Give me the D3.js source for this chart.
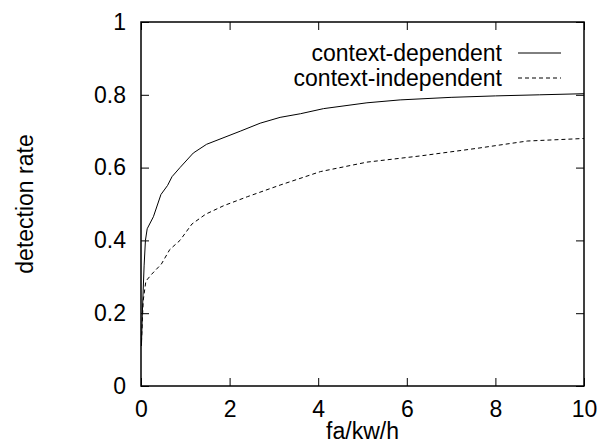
<!DOCTYPE html>
<html>
<head>
<meta charset="utf-8">
<script src="https://cdn.jsdelivr.net/npm/d3@7"></script>
<style>
  body { margin: 0; background: #fff; }
  svg text { font-family: "Liberation Sans", Arial, Helvetica, sans-serif; fill: #000; }
</style>
</head>
<body>
<div id="chartCtn"></div>
<script>
// curve data: [fa/kw/h, detection rate]
var contextDependent = [
	[ 0.01, 0.11 ], [ 0.03, 0.2 ], [ 0.07, 0.33 ], [ 0.1, 0.4 ], [ 0.14, 0.432 ],
	[ 0.28, 0.465 ], [ 0.45, 0.526 ], [ 0.6, 0.551 ], [ 0.7, 0.575 ], [ 0.88, 0.6 ],
	[ 1.18, 0.64 ], [ 1.48, 0.664 ], [ 2.24, 0.7 ], [ 2.69, 0.722 ], [ 3.14, 0.738 ],
	[ 3.6, 0.748 ], [ 4.12, 0.762 ], [ 5.1, 0.778 ], [ 5.85, 0.786 ], [ 7, 0.793 ],
	[ 8, 0.797 ], [ 9, 0.8 ], [ 10, 0.803 ]
];
var contextIndependent = [
	[ 0.01, 0.12 ], [ 0.05, 0.235 ], [ 0.11, 0.288 ], [ 0.24, 0.307 ], [ 0.46, 0.335 ],
	[ 0.65, 0.375 ], [ 0.88, 0.4 ], [ 1.15, 0.445 ], [ 1.46, 0.472 ], [ 1.86, 0.495 ],
	[ 2.4, 0.52 ], [ 3.14, 0.552 ], [ 4.05, 0.589 ], [ 5.1, 0.615 ], [ 6.3, 0.632 ],
	[ 7.59, 0.653 ], [ 8.72, 0.673 ], [ 10, 0.68 ]
];
var seriesNames = [ "context-dependent", "context-independent" ];
var xTicks = [ 0, 2, 4, 6, 8, 10 ];
var yTicks = [ 0, 0.2, 0.4, 0.6, 0.8, 1 ];
var xLabel = "fa/kw/h";
var yLabel = "detection rate";

( function () {
	var width = 599, height = 443;
	var plotLeft = 141, plotRight = 584, plotTop = 22, plotBottom = 386;
	var fontSize = "23px";

	var svg = d3.select( "#chartCtn" )
		.append( "svg" )
		.attr( "width", width )
		.attr( "height", height );

	var xScale = d3.scaleLinear().domain( [ 0, 10 ] ).range( [ plotLeft, plotRight ] );
	var yScale = d3.scaleLinear().domain( [ 0, 1 ] ).range( [ plotBottom, plotTop ] );

	var fmt = d => d3.format( "" )( d );

	// axes with inward ticks, labels on the left and bottom
	svg.append( "g" )
		.attr( "transform", `translate(0, ${ plotBottom })` )
		.call( d3.axisBottom( xScale ).tickValues( xTicks ).tickFormat( fmt ).tickSize( -8 ).tickPadding( 15 ) )
		.call( g => g.select( ".domain" ).remove() )
		.selectAll( "text" ).style( "font-size", fontSize );

	svg.append( "g" )
		.attr( "transform", `translate(${ plotLeft }, 0)` )
		.call( d3.axisLeft( yScale ).tickValues( yTicks ).tickFormat( fmt ).tickSize( -8 ).tickPadding( 15 ) )
		.call( g => g.select( ".domain" ).remove() )
		.selectAll( "text" ).style( "font-size", fontSize );

	// mirrored ticks on top and right
	svg.append( "g" )
		.attr( "transform", `translate(0, ${ plotTop })` )
		.call( d3.axisTop( xScale ).tickValues( xTicks ).tickFormat( "" ).tickSize( -8 ) )
		.call( g => g.select( ".domain" ).remove() );

	svg.append( "g" )
		.attr( "transform", `translate(${ plotRight }, 0)` )
		.call( d3.axisRight( yScale ).tickValues( yTicks ).tickFormat( "" ).tickSize( -8 ) )
		.call( g => g.select( ".domain" ).remove() );

	svg.selectAll( ".tick line" ).attr( "stroke", "#000" ).attr( "stroke-width", 1 );

	svg.append( "rect" )
		.attr( "x", plotLeft )
		.attr( "y", plotTop )
		.attr( "width", plotRight - plotLeft )
		.attr( "height", plotBottom - plotTop )
		.attr( "fill", "none" )
		.attr( "stroke", "#000" )
		.attr( "stroke-width", 1.5 );

	var line = d3.line()
		.x( d => xScale( d[0] ) )
		.y( d => yScale( d[1] ) );

	var series = [ contextDependent, contextIndependent ];
	var dashes = [ null, "4,3" ];

	svg.selectAll( ".curve" )
		.data( series )
		.enter()
		.append( "path" )
		.attr( "class", "curve" )
		.attr( "d", line )
		.attr( "fill", "none" )
		.attr( "stroke", "#000" )
		.attr( "stroke-width", 1 )
		.attr( "stroke-dasharray", ( d, i ) => dashes[i] );

	// legend
	var legend = svg.append( "g" );
	seriesNames.forEach( function ( name, i ) {
		var ly = 53 + i * 25;
		legend.append( "text" )
			.attr( "x", 502 )
			.attr( "y", ly )
			.attr( "dy", "0.35em" )
			.attr( "text-anchor", "end" )
			.style( "font-size", fontSize )
			.text( name );
		legend.append( "line" )
			.attr( "x1", 518 )
			.attr( "x2", 561 )
			.attr( "y1", ly )
			.attr( "y2", ly )
			.attr( "stroke", "#000" )
			.attr( "stroke-width", 1 )
			.attr( "stroke-dasharray", dashes[i] );
	} );

	svg.append( "text" )
		.attr( "x", ( plotLeft + plotRight ) / 2 )
		.attr( "y", 439 )
		.attr( "text-anchor", "middle" )
		.style( "font-size", fontSize )
		.text( xLabel );

	svg.append( "text" )
		.attr( "transform", "rotate(-90)" )
		.attr( "x", -( plotTop + plotBottom ) / 2 )
		.attr( "y", 33 )
		.attr( "text-anchor", "middle" )
		.style( "font-size", fontSize )
		.text( yLabel );
} )();
</script>
</body>
</html>
